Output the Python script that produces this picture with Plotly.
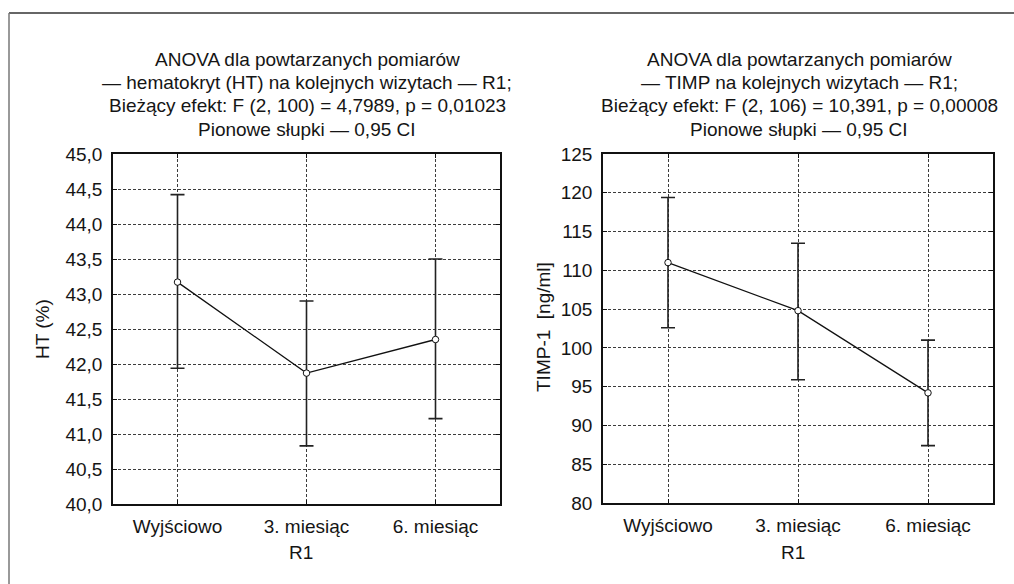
import plotly.graph_objects as go

# ---- data ----
categories = ["Wyjściowo", "3. miesiąc", "6. miesiąc"]
ht_mean = [43.17, 41.87, 42.35]
ht_upper = [44.42, 42.90, 43.50]
ht_lower = [41.94, 40.83, 41.22]
timp_mean = [111.0, 104.8, 94.2]
timp_upper = [119.4, 113.5, 101.0]
timp_lower = [102.6, 95.9, 87.4]

title_left_lines = ["ANOVA dla powtarzanych pomiarów",
                    "— hematokryt (HT) na kolejnych wizytach — R1;",
                    "Bieżący efekt: F (2, 100) = 4,7989, p = 0,01023",
                    "Pionowe słupki — 0,95 CI"]
title_right_lines = ["ANOVA dla powtarzanych pomiarów",
                     "— TIMP na kolejnych wizytach — R1;",
                     "Bieżący efekt: F (2, 106) = 10,391, p = 0,00008",
                     "Pionowe słupki — 0,95 CI"]
ytitle_left = "HT (%)"
ytitle_right = "TIMP-1\u00a0 [ng/ml]"
xtitle = "R1"

W, H = 1014, 584
FONT = "Liberation Sans, Arial, sans-serif"
TXT = "#151515"


def px_x(v):
    return v / W


def px_y(v):
    return 1 - v / H


fig = go.Figure()


def add_series(mean, upper, lower, xa, ya):
    fig.add_trace(go.Scatter(
        x=categories, y=mean, xaxis=xa, yaxis=ya,
        mode="lines+markers",
        line=dict(color="#111111", width=1.3),
        marker=dict(symbol="circle", size=6.5, color="white",
                    line=dict(color="#111111", width=1)),
        error_y=dict(type="data", symmetric=False,
                     array=[u - m for u, m in zip(upper, mean)],
                     arrayminus=[m - l for m, l in zip(mean, lower)],
                     color="#222222", thickness=1.6, width=7),
        showlegend=False, hoverinfo="skip",
    ))


add_series(ht_mean, ht_upper, ht_lower, "x", "y")
add_series(timp_mean, timp_upper, timp_lower, "x2", "y2")

axis_common = dict(
    automargin=False,
    showline=True, linecolor="#111111", linewidth=1.5, mirror="ticks",
    ticks="inside", ticklen=4, tickcolor="#111111", tickwidth=1,
    showgrid=True, gridcolor="#3c3c3c", gridwidth=1, griddash="3px,2px",
    zeroline=False,
    tickfont=dict(family=FONT, size=19, color=TXT),
)

fig.update_layout(
    width=W, height=H,
    margin=dict(l=0, r=0, t=0, b=0, autoexpand=False),
    paper_bgcolor="white", plot_bgcolor="white",
    separators=", ",
    font=dict(family=FONT, color=TXT),
    xaxis=dict(domain=[px_x(113), px_x(500)], anchor="y", type="category",
               range=[-0.5, 2.5], ticklabelstandoff=4, **axis_common),
    yaxis=dict(domain=[px_y(504), px_y(154)], anchor="x", range=[40, 45],
               dtick=0.5, tick0=40, tickformat=".1f", ticklabelstandoff=5,
               **axis_common),
    xaxis2=dict(domain=[px_x(603), px_x(993)], anchor="y2", type="category",
                range=[-0.5, 2.5], ticklabelstandoff=4, **axis_common),
    yaxis2=dict(domain=[px_y(503), px_y(154)], anchor="x2", range=[80, 125],
                dtick=5, tick0=80, tickformat="d", ticklabelstandoff=5,
                **axis_common),
)

annots = []
line_y = [59, 82.5, 106, 129.5]
for txt, yy in zip(title_left_lines, line_y):
    annots.append(dict(text=txt, x=px_x(307), y=px_y(yy), font_size=19))
for txt, yy in zip(title_right_lines, line_y):
    annots.append(dict(text=txt, x=px_x(799), y=px_y(yy), font_size=19))
annots += [
    dict(text=ytitle_left, x=px_x(42), y=px_y(329), textangle=-90, font_size=19),
    dict(text=ytitle_right, x=px_x(543), y=px_y(327), textangle=-90, font_size=19),
    dict(text=xtitle, x=px_x(301), y=px_y(552), font_size=19),
    dict(text=xtitle, x=px_x(793), y=px_y(552), font_size=19),
]
for a in annots:
    fig.add_annotation(xref="paper", yref="paper", showarrow=False,
                       xanchor="center", yanchor="middle",
                       font=dict(family=FONT, color=TXT, size=a.pop("font_size")),
                       **a)

# outer frame (top and left edges)
fig.add_shape(type="line", xref="paper", yref="paper",
              x0=px_x(9), x1=1, y0=px_y(13), y1=px_y(13),
              line=dict(color="#333333", width=1.5))
fig.add_shape(type="line", xref="paper", yref="paper",
              x0=px_x(9), x1=px_x(9), y0=px_y(13), y1=0,
              line=dict(color="#777777", width=1.5))

fig.write_html("out.html",
               config={"displayModeBar": False},
               post_script="document.body.style.margin='0';document.body.style.padding='0';")
